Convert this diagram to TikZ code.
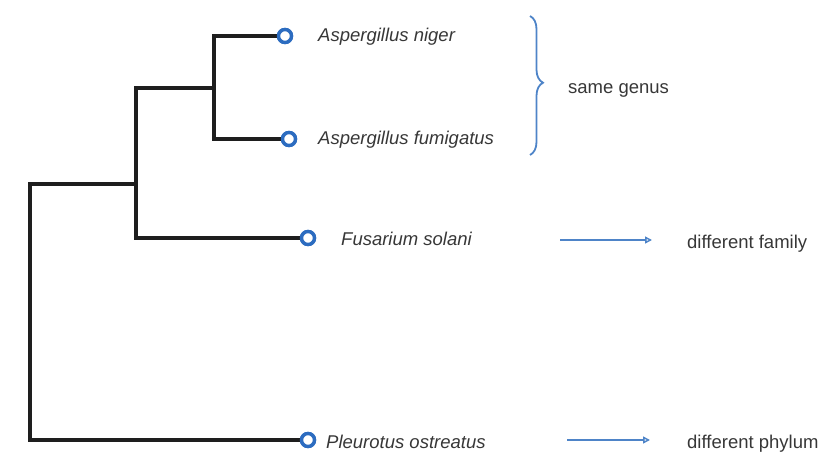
\documentclass[tikz,border=0pt]{standalone}
\usepackage{fontspec}
\setmainfont{Liberation Sans}
\usepackage{xcolor}
\usetikzlibrary{
    arrows.meta,
    positioning,
    decorations.pathreplacing
}
\definecolor{treeBlack}{RGB}{30,30,30}
\definecolor{tipBlue}{RGB}{44,108,192}
\definecolor{noteBlue}{RGB}{78,132,200}
\definecolor{txtGray}{RGB}{55,55,55}
\tikzset{
  branch/.style  = {line width=4pt, treeBlack, line join=miter},
  tip/.style     = {circle, draw=tipBlue, line width=3.4pt, fill=white,
                    inner sep=0pt, minimum size=13pt},
  species/.style = {anchor=base west, inner sep=0pt, text=txtGray,
                    font=\fontsize{18.5}{21}\selectfont\itshape},
  note/.style    = {anchor=base west, inner sep=0pt, text=txtGray,
                    font=\fontsize{18.5}{21}\selectfont}
}

\begin{document}
\begin{tikzpicture}[
  x=1pt, y=-1pt,
  arr/.style={
    -{Triangle[open, length=7pt, width=7pt]},
    line width=1.5pt,
    noteBlue
  },
  brc/.style={
    decorate,
    decoration={brace, amplitude=13pt, aspect=0.48},
    line width=1.8pt,
    noteBlue
  }
]
\useasboundingbox (0,0) rectangle (840,470);

%% --- internal nodes of the tree ---
\coordinate (jAsp)  at (214,88);
\coordinate (jFus)  at (136,184);
\coordinate (jRoot) at (30,300);

%% --- tips ---
\node[tip] (nig) at (285,36)  {};
\node[tip] (fum) at (289,139) {};
\node[tip] (sol) at (308,238) {};
\node[tip] (ple) at (308,440) {};

%% --- branches ---
\draw[branch] (nig.west) -| (jAsp) |- (fum.west);
\draw[branch] (jAsp) -| (jFus) |- (sol.west);
\draw[branch] (jFus) -| (jRoot) |- (ple.west);

%% tips again on top of the branch ends
\node[tip] at (nig) {};
\node[tip] at (fum) {};
\node[tip] at (sol) {};
\node[tip] at (ple) {};

%% --- species names ---
\node[species] (lNig) at (318,42)  {Aspergillus niger};
\node[species] (lFum) at (318,145) {Aspergillus fumigatus};
\node[species] (lSol) at (341,246) {Fusarium solani};
\node[species] (lPle) at (326,448) {Pleurotus ostreatus};

%% --- notes ---
\coordinate (bTop) at (530,16);
\coordinate (bBot) at (530,155);
\draw[brc] (bTop) -- (bBot);
\node[note] (genus) at (568,94) {same genus};

\coordinate (aFamS) at (560,240);
\coordinate (aFamE) at (652,240);
\draw[arr] (aFamS) -- (aFamE);
\node[note] (family) at (687,248) {different family};

\coordinate (aPhyS) at (567,440);
\coordinate (aPhyE) at (650,440);
\draw[arr] (aPhyS) -- (aPhyE);
\node[note] (phylum) at (687,448) {different phylum};

\end{tikzpicture}
\end{document}
